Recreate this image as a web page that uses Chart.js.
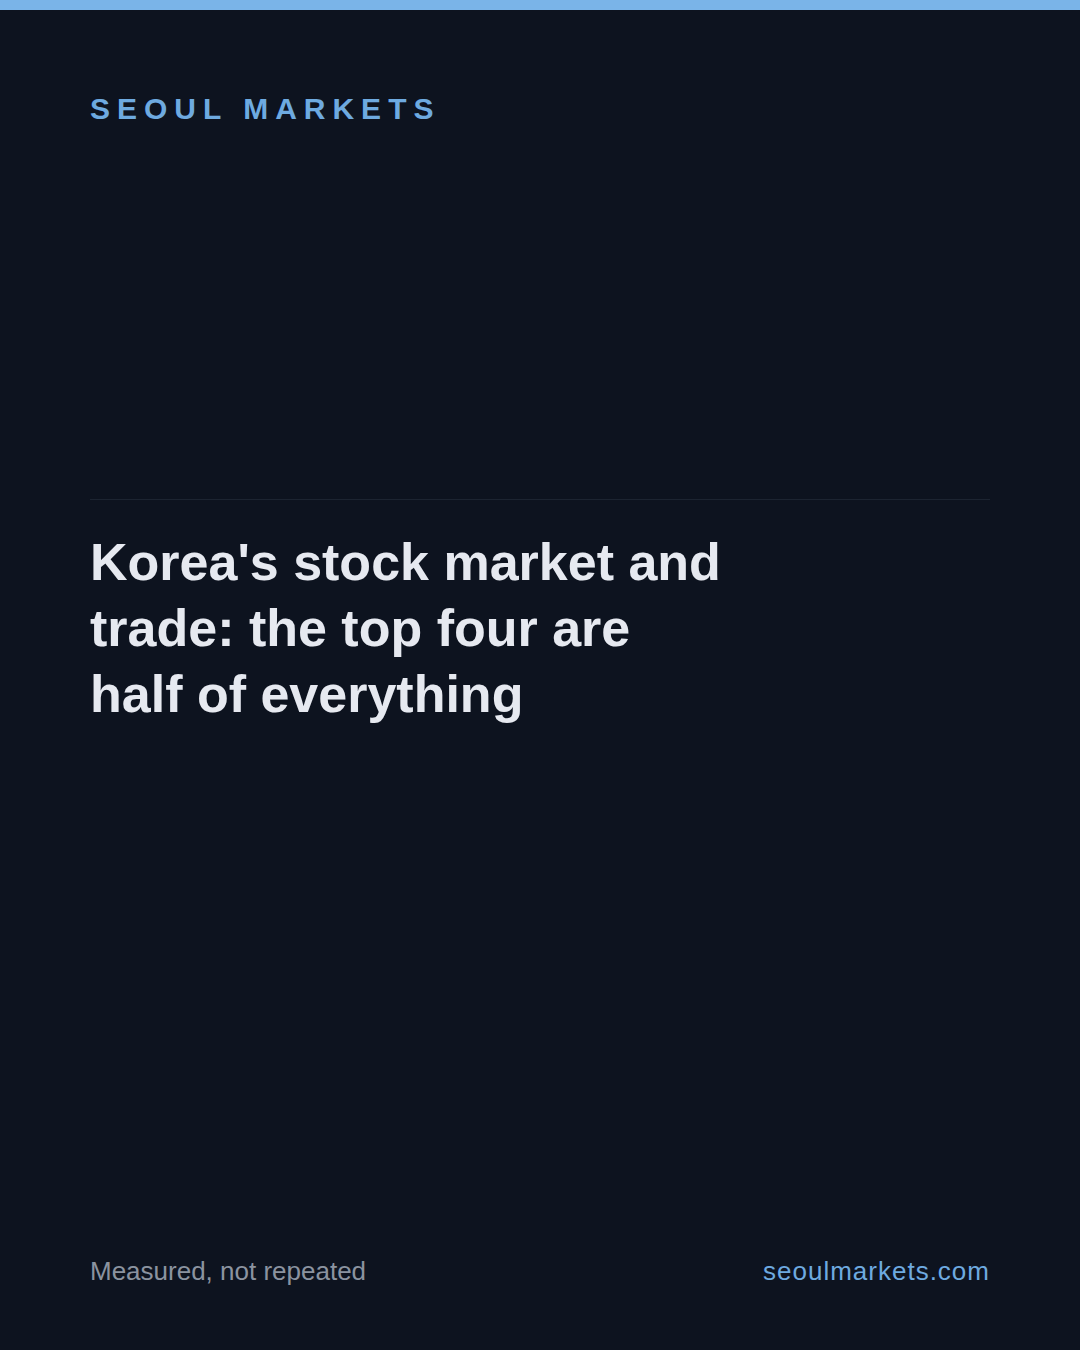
<!DOCTYPE html>
<html>
<head>
<meta charset="utf-8">
<script src="https://cdn.jsdelivr.net/npm/chart.js@4"></script>
<style>
  html, body { margin: 0; padding: 0; }
  body { width: 1080px; height: 1350px; background: #0d131f; position: relative; overflow: hidden;
         font-family: "Liberation Sans", Arial, Helvetica, sans-serif; }
  .topbar { position: absolute; left: 0; top: 0; width: 1080px; height: 10px; background: #7ab4e8; }
  .brand { position: absolute; left: 90px; top: 94px; font-size: 30px; line-height: 1; font-weight: 700;
           letter-spacing: 7px; color: #6eaae0; white-space: nowrap; }
  .rule { position: absolute; left: 90px; top: 499px; width: 900px; height: 1px; background: #1c2431; }
  .title { position: absolute; left: 90px; top: 529px; width: 700px; font-size: 52px; line-height: 66px;
           font-weight: 700; color: #e6e9f0; margin: 0; }
  .chartbox { position: absolute; left: 90px; top: 760px; width: 900px; height: 440px; }
  .foot-l { position: absolute; left: 90px; top: 1258px; font-size: 26px; line-height: 1; color: #8b93a0; }
  .foot-r { position: absolute; right: 90px; top: 1258px; font-size: 26px; line-height: 1; color: #6eaae0;
            letter-spacing: 1px; }
</style>
</head>
<body>
<div class="topbar"></div>
<div class="brand">SEOUL MARKETS</div>
<div class="rule"></div>
<h1 class="title">Korea's stock market and<br>trade: the top four are<br>half of everything</h1>
<div class="chartbox"><canvas id="chart"></canvas></div>
<div class="foot-l">Measured, not repeated</div>
<div class="foot-r">seoulmarkets.com</div>
<script>
// The reference card shows no plotted marks in its chart area; series are empty.
const categories = [];
const seriesValues = [];
const tickLabels = [];

const ctx = document.getElementById('chart');
new Chart(ctx, {
  type: 'bar',
  data: {
    labels: categories,
    datasets: [{ label: 'Share', data: seriesValues, backgroundColor: '#6eaae0' }]
  },
  options: {
    responsive: true,
    maintainAspectRatio: false,
    animation: false,
    plugins: { legend: { display: false }, tooltip: { enabled: false } },
    scales: {
      x: { display: false },
      y: { display: false }
    }
  }
});
</script>
</body>
</html>
